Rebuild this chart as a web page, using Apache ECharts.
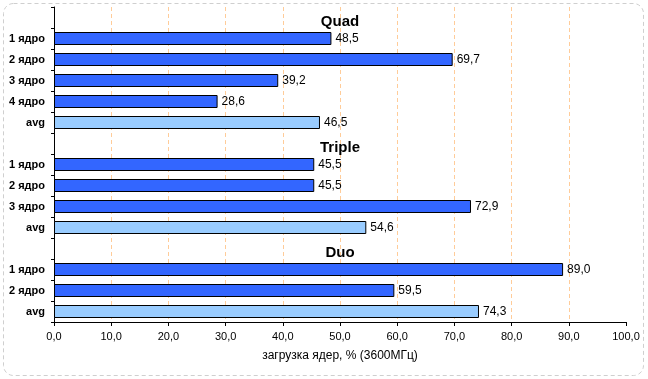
<!DOCTYPE html>
<html>
<head>
<meta charset="utf-8">
<script src="https://cdn.jsdelivr.net/npm/echarts@6/dist/echarts.min.js"></script>
<style>
html,body{margin:0;padding:0;background:#fff;}
#c{width:648px;height:379px;}
</style>
</head>
<body>
<div id="c"></div>
<script>
const groups = ['Quad', 'Triple', 'Duo'];
const coreLabels = [
  ['1 ядро', '2 ядро', '3 ядро', '4 ядро', 'avg'],
  ['1 ядро', '2 ядро', '3 ядро', 'avg'],
  ['1 ядро', '2 ядро', 'avg']
];
const loads = [
  [48.5, 69.7, 39.2, 28.6, 46.5],
  [45.5, 45.5, 72.9, 54.6],
  [89.0, 59.5, 74.3]
];
const xTicks = [0, 10, 20, 30, 40, 50, 60, 70, 80, 90, 100];
const axisTitle = 'загрузка ядер, % (3600МГц)';

const categories = [];
const barData = [];
const headerData = [];
groups.forEach((g, gi) => {
  categories.push('');
  barData.push(null);
  headerData.push({ value: [50, categories.length - 1], name: g });
  coreLabels[gi].forEach((lab, i) => {
    categories.push(lab);
    barData.push({
      value: loads[gi][i],
      itemStyle: { color: lab === 'avg' ? '#99CCFF' : '#3366FF' }
    });
  });
});

const fmt = v => Number(v).toFixed(1).replace('.', ',');

const chart = echarts.init(document.getElementById('c'), null, { renderer: 'canvas' });
chart.setOption({
  animation: false,
  backgroundColor: '#fff',
  graphic: [{
    type: 'rect',
    shape: { x: 3.5, y: 3.5, width: 640, height: 372, r: 10 },
    style: { fill: 'none', stroke: '#cfcfcf', lineWidth: 1, lineDash: [4, 3] },
    z: -1
  }],
  grid: { left: 54, right: 22, top: 7, bottom: 57, containLabel: false },
  xAxis: {
    type: 'value',
    min: xTicks[0],
    max: xTicks[xTicks.length - 1],
    interval: 10,
    axisLine: { show: true, lineStyle: { color: '#000', width: 1 } },
    axisTick: { show: true, length: 4, lineStyle: { color: '#000' } },
    axisLabel: {
      formatter: v => fmt(v),
      color: '#000', fontSize: 11, fontFamily: 'Liberation Sans, Arial, sans-serif', margin: 9
    },
    splitLine: {
      show: true, showMinLine: false, showMaxLine: false,
      lineStyle: { color: '#FFCC99', type: [4, 3], width: 1 }
    },
    name: axisTitle,
    nameLocation: 'middle',
    nameGap: 28,
    nameTextStyle: { color: '#000', fontSize: 12, fontFamily: 'Liberation Sans, Arial, sans-serif' }
  },
  yAxis: {
    type: 'category',
    inverse: true,
    data: categories,
    axisLine: { show: true, lineStyle: { color: '#000', width: 1 } },
    axisTick: { show: true, length: 3, alignWithLabel: false, lineStyle: { color: '#000' } },
    axisLabel: {
      interval: 0, color: '#000', fontSize: 11, fontWeight: 'bold',
      fontFamily: 'Liberation Sans, Arial, sans-serif', margin: 9
    },
    splitLine: { show: false }
  },
  series: [{
    type: 'bar',
    data: barData,
    barWidth: 13,
    itemStyle: { borderColor: '#000', borderWidth: 1 },
    label: {
      show: true, position: 'right', distance: 4,
      formatter: p => fmt(p.value),
      color: '#000', fontSize: 12, fontFamily: 'Liberation Sans, Arial, sans-serif'
    }
  }, {
    type: 'scatter',
    data: headerData,
    symbolSize: 0,
    silent: true,
    itemStyle: { opacity: 1 },
    label: {
      show: true, position: 'inside', offset: [0, 4],
      formatter: p => p.name,
      color: '#000', fontSize: 15, fontWeight: 'bold',
      fontFamily: 'Liberation Sans, Arial, sans-serif'
    }
  }]
});
</script>
</body>
</html>
